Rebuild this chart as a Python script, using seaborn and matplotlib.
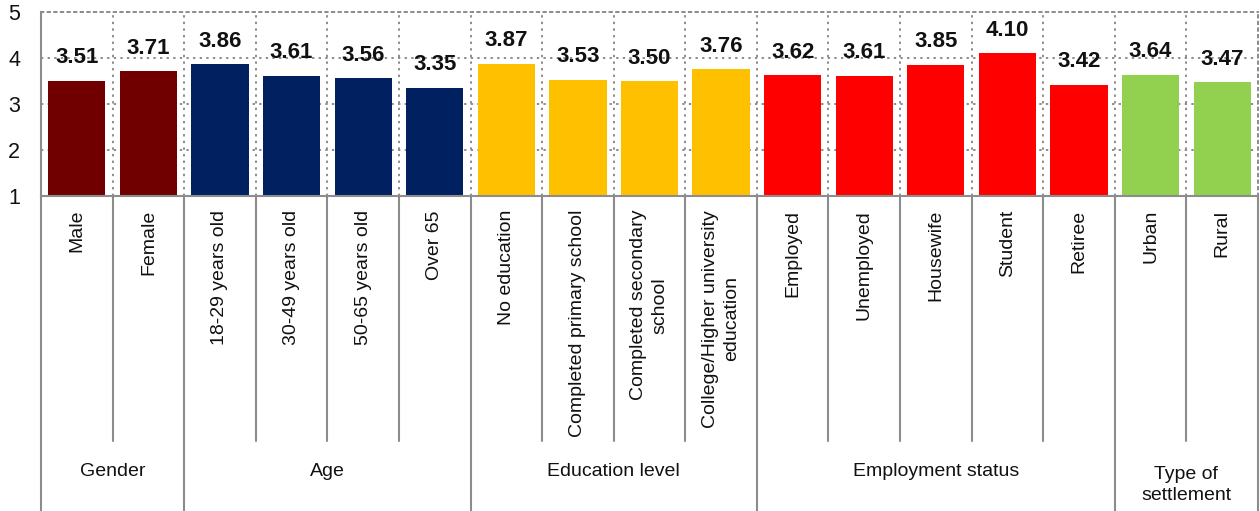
import matplotlib
matplotlib.use("Agg")
import matplotlib.pyplot as plt
import seaborn as sns
import pandas as pd
from matplotlib.font_manager import fontManager

# Survey means by respondent subgroup
categories = [
    "Male", "Female",
    "18-29 years old", "30-49 years old", "50-65 years old", "Over 65",
    "No education", "Completed primary school", "Completed secondary\nschool",
    "College/Higher university\neducation",
    "Employed", "Unemployed", "Housewife", "Student", "Retiree",
    "Urban", "Rural",
]
values = [3.51, 3.71, 3.86, 3.61, 3.56, 3.35, 3.87, 3.53, 3.50, 3.76,
          3.62, 3.61, 3.85, 4.10, 3.42, 3.64, 3.47]
groups = ["Gender", "Age", "Education level", "Employment status", "Type of\nsettlement"]
group_sizes = [2, 4, 4, 5, 2]
group_colors = ["#700000", "#002060", "#FFC000", "#FF0000", "#92D050"]
y_ticks = [1, 2, 3, 4, 5]

sns.set_theme(style="white")
names = {f.name for f in fontManager.ttflist}
base_font = "Liberation Sans" if "Liberation Sans" in names else "DejaVu Sans"
narrow_font = "Liberation Sans Narrow" if "Liberation Sans Narrow" in names else base_font
plt.rcParams["font.family"] = [base_font, "DejaVu Sans"]

bar_colors = []
group_of = []
for g, n, c in zip(groups, group_sizes, group_colors):
    bar_colors += [c] * n
    group_of += [g] * n

df = pd.DataFrame({"category": categories, "value": values, "group": group_of})

fig = plt.figure(figsize=(12.6, 5.11), dpi=100)
W, H = 1260, 511
left, right, top, bottom = 41, 1258, 12, 196
ax = fig.add_axes([left / W, (H - bottom) / H, (right - left) / W, (bottom - top) / H])

sns.barplot(data=df, x="category", y="value", hue="category",
            palette=bar_colors, width=0.8, legend=False, ax=ax,
            saturation=1, linewidth=0)

n = len(categories)
ax.set_xlim(-0.5, n - 0.5)
ax.set_ylim(1, 5)
ax.set_yticks(y_ticks)
ax.set_yticklabels([str(t) for t in y_ticks], fontsize=15.5, color="#111111")
ax.tick_params(axis="y", length=0, pad=15)
ax.set_xticks([])
ax.set_xlabel("")
ax.set_ylabel("")

# dotted grid
grid_kw = dict(color="#8c8c8c", linestyle=(0, (1.2, 2.2)), linewidth=1.4, zorder=0)
for t in y_ticks[1:-1]:
    ax.axhline(t, **grid_kw)
for i in range(1, n):
    ax.axvline(i - 0.5, **grid_kw)

for side in ["top", "right"]:
    ax.spines[side].set_linestyle((0, (1.2, 2.2)))
    ax.spines[side].set_color("#8c8c8c")
    ax.spines[side].set_linewidth(1.4)
for side in ["left", "bottom"]:
    ax.spines[side].set_color("#8c8c8c")
    ax.spines[side].set_linewidth(1.5)

# value labels
for i, v in enumerate(values):
    ax.annotate(f"{v:.2f}", (i, v), xytext=(0, 9), textcoords="offset points",
                ha="center", va="bottom", fontsize=16, fontweight="bold",
                family=[narrow_font, "DejaVu Sans"], color="#111111")

# hierarchical category axis below the plot
ah = bottom - top
xt = ax.get_xaxis_transform()
inner_end = -(441 - bottom) / ah
outer_end = -(H - bottom) / ah
line_kw = dict(color="#8c8c8c", linewidth=1.5, transform=xt, clip_on=False)

boundaries = [0]
for s in group_sizes:
    boundaries.append(boundaries[-1] + s)

for i in range(n + 1):
    x = i - 0.5
    end = outer_end if i in boundaries else inner_end
    ax.plot([x, x], [0, end], **line_kw)

for i, c in enumerate(categories):
    ax.text(i, -14 / ah, c, transform=xt, rotation=90, ha="center", va="top",
            multialignment="center", fontsize=14, color="#111111",
            linespacing=1.35, clip_on=False)

for g, a, b in zip(groups, boundaries[:-1], boundaries[1:]):
    xc = (a + b - 1) / 2
    yc = -(472 - bottom) / ah if "\n" not in g else -(485 - bottom) / ah
    ax.text(xc, yc, g, transform=xt, ha="center", va="center", fontsize=14,
            color="#111111", linespacing=1.35, clip_on=False)

fig.savefig("out.png", dpi=100)
